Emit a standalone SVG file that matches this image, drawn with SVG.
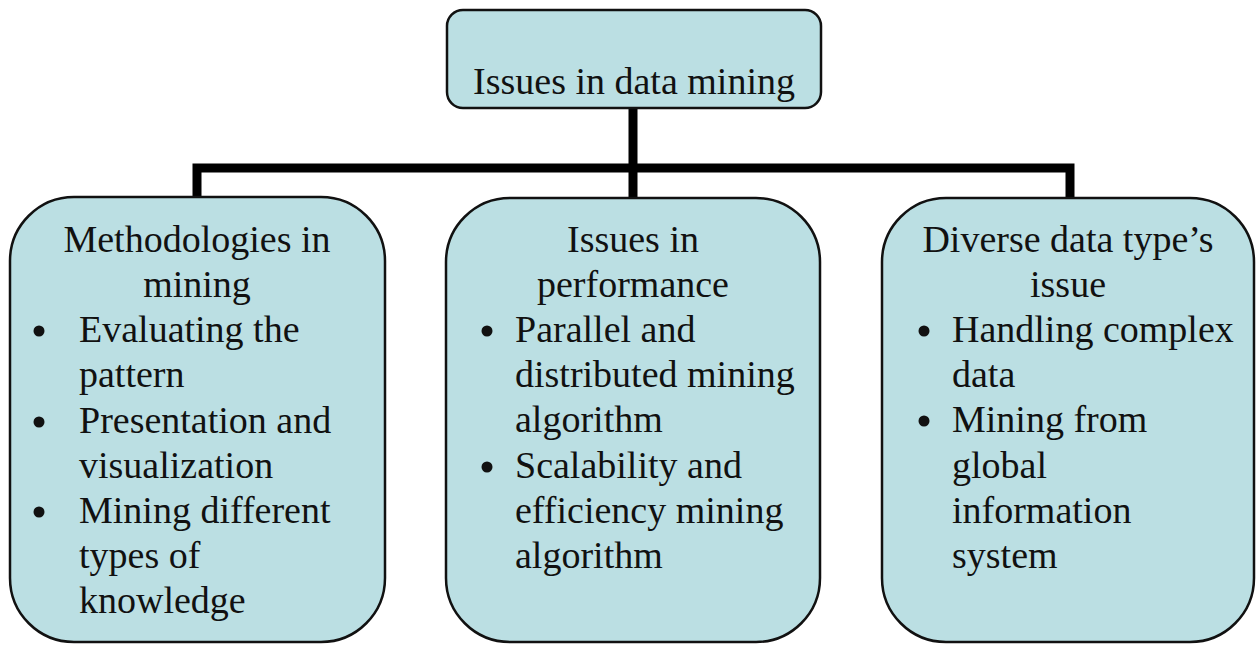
<svg xmlns="http://www.w3.org/2000/svg" width="1256" height="645" viewBox="0 0 1256 645">
<style>
.box{fill:#bbdfe3;stroke:#111;stroke-width:2.5}
.t{font-family:"Liberation Serif","Times New Roman",serif;font-size:38px;fill:#111}
.c{text-anchor:middle}
.conn{fill:none;stroke:#000;stroke-width:9}
.bul{fill:#111}
</style>
<rect width="1256" height="645" fill="#fff"/>
<g id="connectors">
<path class="conn" d="M633 108 V198"/>
<path class="conn" d="M197 198 V168 H1070 V198"/>
</g>
<g id="root">
<rect class="box" x="447" y="10" width="374" height="98" rx="16"/>
<text class="t c" x="634" y="94">Issues in data mining</text>
</g>
<g id="methodologies">
<rect class="box" x="10" y="197" width="375" height="445" rx="64"/>
<text class="t c" x="197" y="252">Methodologies in</text>
<text class="t c" x="197" y="297">mining</text>
<circle class="bul" cx="39" cy="331" r="5.5"/>
<text class="t" x="79" y="342">Evaluating the</text>
<text class="t" x="79" y="387">pattern</text>
<circle class="bul" cx="39" cy="422" r="5.5"/>
<text class="t" x="79" y="433">Presentation and</text>
<text class="t" x="79" y="478">visualization</text>
<circle class="bul" cx="39" cy="512" r="5.5"/>
<text class="t" x="79" y="523">Mining different</text>
<text class="t" x="79" y="568">types of</text>
<text class="t" x="79" y="613">knowledge</text>
</g>
<g id="performance">
<rect class="box" x="446" y="198" width="374" height="444" rx="64"/>
<text class="t c" x="633" y="252">Issues in</text>
<text class="t c" x="633" y="297">performance</text>
<circle class="bul" cx="487" cy="331" r="5.5"/>
<text class="t" x="515" y="342">Parallel and</text>
<text class="t" x="515" y="387">distributed mining</text>
<text class="t" x="515" y="432">algorithm</text>
<circle class="bul" cx="487" cy="467" r="5.5"/>
<text class="t" x="515" y="478">Scalability and</text>
<text class="t" x="515" y="523">efficiency mining</text>
<text class="t" x="515" y="568">algorithm</text>
</g>
<g id="diverse">
<rect class="box" x="882" y="198" width="372" height="444" rx="64"/>
<text class="t c" x="1068" y="252">Diverse data type’s</text>
<text class="t c" x="1068" y="297">issue</text>
<circle class="bul" cx="924" cy="331" r="5.5"/>
<text class="t" x="952" y="342">Handling complex</text>
<text class="t" x="952" y="387">data</text>
<circle class="bul" cx="924" cy="421" r="5.5"/>
<text class="t" x="952" y="432">Mining from</text>
<text class="t" x="952" y="478">global</text>
<text class="t" x="952" y="523">information</text>
<text class="t" x="952" y="568">system</text>
</g>
</svg>
